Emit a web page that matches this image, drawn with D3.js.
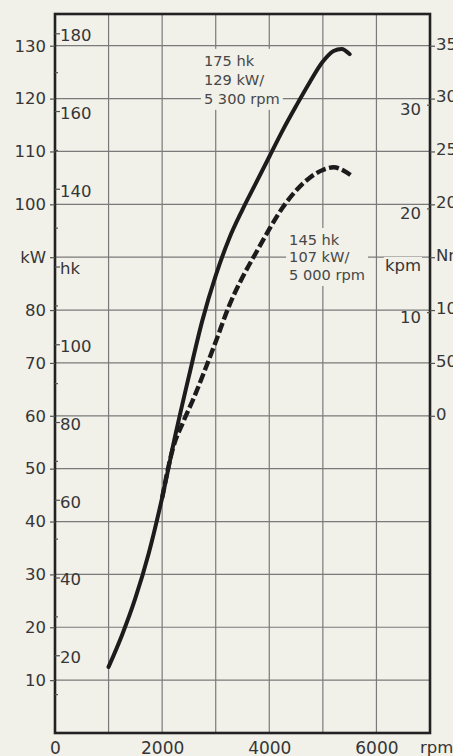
<!DOCTYPE html>
<html>
<head>
<meta charset="utf-8">
<script src="https://cdn.jsdelivr.net/npm/d3@7"></script>
<style>
	html, body { margin: 0; padding: 0; background: #f1f0e9; }
	svg { display: block; }
	text { font-family: 'DejaVu Sans', sans-serif; fill: #363636; }
	.axis text { font-size: 16.5px; }
	.note text { font-size: 14.6px; fill: #474747; }
</style>
</head>
<body>
<div id="chart"></div>
<script>
// values
var rpmTicks = [0, 2000, 4000, 6000];
var rpmGrid = [1000, 2000, 3000, 4000, 5000, 6000];
var kwTicks = [10, 20, 30, 40, 50, 60, 70, 80, 90, 100, 110, 120, 130];
var hkMajor = [20, 40, 60, 80, 100, 120, 140, 160, 180];
var hkMinor = [10, 30, 50, 70, 90, 110, 130, 150, 170];
var nmTicks = [0, 50, 100, 150, 200, 250, 300, 350];
var kpmTicks = [10, 15, 20, 30];

// 175 hk engine (solid)
var rpm175 = [1000, 1250, 1500, 1750, 2000, 2250, 2500, 2750, 3000, 3250, 3500, 3750, 4000, 4250, 4500, 4750, 5000, 5200, 5350, 5500];
var kw175 = [12.5, 18.5, 25.5, 34, 44.5, 56.5, 67.5, 78, 86.5, 93.5, 99, 104, 109, 114, 118.6, 123, 127, 129, 129.4, 128.4];

// 145 hk engine (dashed)
var rpm145 = [2000, 2200, 2400, 2600, 2800, 3000, 3250, 3500, 3750, 4000, 4250, 4500, 4750, 5000, 5200, 5400, 5550];
var kw145 = [44.5, 53.8, 59, 63.6, 68.7, 74, 80.8, 86.2, 90.8, 95.3, 99.4, 102.6, 105, 106.5, 107, 106.3, 105.3];

var note175 = ['175 hk', '129 kW/', '5 300 rpm'];
var note145 = ['145 hk', '107 kW/', '5 000 rpm'];

var width = 453, height = 756;
var bg = '#f1f0e9';

var svg = d3.select('#chart').append('svg')
	.attr('width', width)
	.attr('height', height);
svg.append('rect').attr('width', width).attr('height', height).attr('fill', bg);

var x = d3.scaleLinear().domain([0, 7000]).range([55, 430]);
var y = d3.scaleLinear().domain([0, 136]).range([733, 14]);
// hk = kW * 1.36, Nm scale: 0 Nm sits on 60 kW, 50 Nm per 10 kW
var yHk = d3.scaleLinear().domain([0, 136 * 1.36]).range(y.range());
var yNm = d3.scaleLinear().domain([-300, 380]).range(y.range());
var yKpm = d3.scaleLinear().domain([-300 / 9.80665, 380 / 9.80665]).range(y.range());

var x0 = x.range()[0], x1 = x.range()[1];
var y0 = y.range()[0], y1 = y.range()[1];

// grid
var grid = svg.append('g').attr('stroke', '#7a7a7a').attr('stroke-width', 1.2);
grid.selectAll('line.v').data(rpmGrid).enter().append('line')
	.attr('class', 'v')
	.attr('x1', function(d) { return x(d); })
	.attr('x2', function(d) { return x(d); })
	.attr('y1', y1).attr('y2', y0);
grid.selectAll('line.h').data(kwTicks).enter().append('line')
	.attr('class', 'h')
	.attr('x1', x0).attr('x2', x1)
	.attr('y1', function(d) { return y(d); })
	.attr('y2', function(d) { return y(d); });

// boxes behind text, drawn over the grid
function noteBox(g, pad) {
	var b = g.select('.txt').node().getBBox();
	g.insert('rect', '.txt')
		.attr('x', b.x - pad).attr('y', b.y - pad)
		.attr('width', b.width + pad * 2).attr('height', b.height + pad * 2)
		.attr('fill', bg);
}

// line number `at` of the note is centred on the given kW grid line
function addNote(lines, rpm, kw, at, lineStep) {
	var g = svg.append('g').attr('class', 'note');
	var t = g.append('g').attr('class', 'txt');
	t.selectAll('text').data(lines).enter().append('text')
		.attr('x', x(rpm))
		.attr('y', function(d, i) { return y(kw) + (i - at) * lineStep; })
		.attr('dy', '0.36em')
		.text(function(d) { return d; });
	noteBox(g, 3);
}
addNote(note175, 2780, 120, 2, 19);
addNote(note145, 4370, 90, 1, 17.5);

// curves
var line = d3.line()
	.x(function(d) { return x(d[0]); })
	.y(function(d) { return y(d[1]); })
	.curve(d3.curveMonotoneX);

svg.append('path')
	.datum(d3.zip(rpm145, kw145))
	.attr('d', line)
	.attr('fill', 'none')
	.attr('stroke', '#1c1c1c')
	.attr('stroke-width', 4.4)
	.attr('stroke-dasharray', '10 3.5');

svg.append('path')
	.datum(d3.zip(rpm175, kw175))
	.attr('d', line)
	.attr('fill', 'none')
	.attr('stroke', '#1c1c1c')
	.attr('stroke-width', 4)
	.attr('stroke-linecap', 'round');

// frame
svg.append('rect')
	.attr('x', x0).attr('y', y1)
	.attr('width', x1 - x0).attr('height', y0 - y1)
	.attr('fill', 'none')
	.attr('stroke', '#222')
	.attr('stroke-width', 2.6);

function styleAxis(g) {
	g.select('.domain').remove();
	g.selectAll('line').attr('stroke', '#555').attr('stroke-width', 1.2);
	g.selectAll('text').attr('fill', '#363636');
}

// kW, left outside
svg.append('g').attr('class', 'axis')
	.attr('transform', 'translate(' + x0 + ',0)')
	.call(d3.axisLeft(y).tickValues(kwTicks).tickSize(5).tickPadding(4)
		.tickFormat(function(d) { return d === 90 ? 'kW' : d; }))
	.call(styleAxis);

// hk, left inside
svg.append('g').attr('class', 'axis')
	.attr('transform', 'translate(' + x0 + ',0)')
	.call(d3.axisRight(yHk).tickValues(hkMinor).tickSize(3).tickFormat(''))
	.call(styleAxis);
svg.append('g').attr('class', 'axis')
	.attr('transform', 'translate(' + x0 + ',0)')
	.call(d3.axisRight(yHk).tickValues(hkMajor).tickSize(5).tickPadding(0)
		.tickFormat(function(d) { return d === 120 ? 'hk' : d; }))
	.call(styleAxis)
	.selectAll('text').attr('dy', '0.45em');

// Nm, right outside (cut by the page edge as in the original)
svg.append('g').attr('class', 'axis')
	.attr('transform', 'translate(' + x1 + ',0)')
	.call(d3.axisRight(yNm).tickValues(nmTicks).tickSize(5).tickPadding(1)
		.tickFormat(function(d) { return d === 150 ? 'Nm' : d; }))
	.call(styleAxis)
	.selectAll('text').attr('dy', '0.2em');

// kpm, right inside
var kpmAxis = svg.append('g').attr('class', 'axis')
	.attr('transform', 'translate(' + x1 + ',0)')
	.call(d3.axisLeft(yKpm).tickValues(kpmTicks).tickSize(3).tickPadding(6)
		.tickFormat(function(d) { return d === 15 ? 'kpm' : d; }))
	.call(styleAxis);
kpmAxis.selectAll('text').attr('dy', '0.62em');
kpmAxis.selectAll('.tick').filter(function(d) { return d === 15; }).each(function() {
	var t = d3.select(this);
	var b = t.select('text').node().getBBox();
	t.insert('rect', 'text')
		.attr('x', b.x - 1).attr('y', b.y + 1)
		.attr('width', b.width + 2).attr('height', b.height - 1)
		.attr('fill', bg);
	t.select('line').remove();
});

// rpm, bottom
svg.append('g').attr('class', 'axis')
	.attr('transform', 'translate(0,' + y0 + ')')
	.call(d3.axisBottom(x).tickValues(rpmTicks).tickSize(0).tickPadding(9)
		.tickFormat(function(d) { return d; }))
	.call(styleAxis)
	.selectAll('text').style('font-size', '17px');
svg.append('text')
	.attr('x', x1 - 10).attr('y', y0 + 20)
	.style('font-size', '16.5px')
	.text('rpm');
</script>
</body>
</html>
